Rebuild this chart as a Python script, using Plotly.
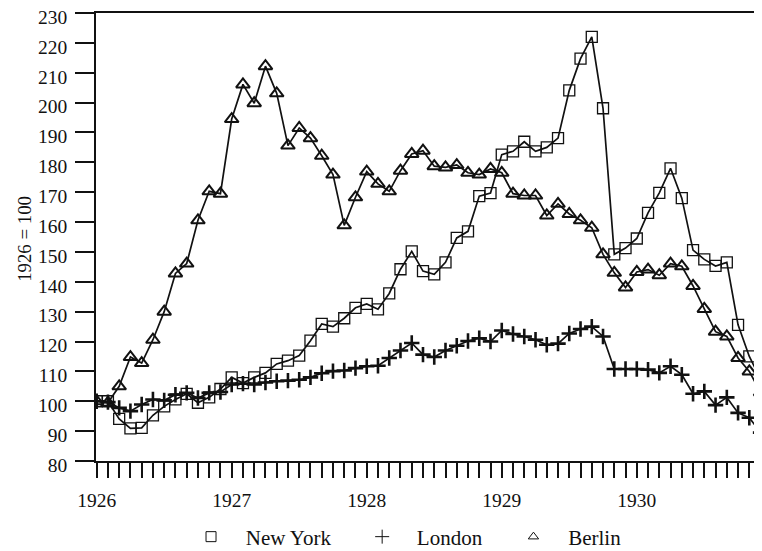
import plotly.graph_objects as go

months = list(range(60))
year_labels = {0: "1926", 12: "1927", 24: "1928", 36: "1929", 48: "1930"}

new_york = [100, 100, 94.1, 90.9, 91.1, 95.3, 98.3, 100.6, 102.5, 99.5,
            101.3, 104.1, 108, 106.1, 108, 109.5, 112.5, 113.6, 115.3, 120.3,
            125.9, 125, 127.8, 131.3, 132.6, 130.8, 136.1, 144.2, 150.2, 143.6,
            142.5, 146.5, 154.7, 156.9, 168.7, 169.7, 182.6, 183.7, 186.9, 183.7,
            185, 188.1, 204.1, 214.7, 222, 198.1, 149.2, 151.3, 154.5, 163.1,
            169.8, 178, 168, 150.6, 147.5, 145.3, 146.5, 125.6, 115, 107.5]

london = [100, 99.7, 97.8, 96.7, 98.9, 100.6, 100.3, 102.2, 102.8, 101.1,
          102.8, 103.1, 105.6, 105.9, 105.6, 106.3, 106.7, 106.9, 107.2, 108,
          109.4, 110.1, 110.3, 111.1, 111.7, 111.9, 114.5, 117, 119.5, 115.6,
          114.8, 117, 118.6, 120.2, 121.1, 120, 123.7, 122.5, 121.7, 120.6,
          118.9, 119.3, 122.7, 124.2, 125, 121.7, 110.8, 110.8, 110.8, 110.6,
          109.5, 111.7, 108.9, 102.5, 103.3, 98.7, 101.3, 96.1, 94.5, 89.5]

berlin = [100, 99.5, 105, 114.8, 112.8, 120.6, 130, 142.8, 146.1, 160.6,
          170.3, 169.5, 194.5, 206.1, 199.8, 212.2, 203.1, 185.6, 191.5, 188.1,
          182.2, 175.9, 158.9, 168.3, 176.9, 172.8, 170.3, 177.2, 182.8, 183.9,
          178.7, 178.3, 179.1, 176.5, 175.9, 177.8, 176.5, 169.5, 168.9, 168.9,
          162.2, 166.1, 162.7, 160.6, 158.1, 149.2, 143, 138.1, 143.3, 144.1,
          142.2, 146.1, 145.2, 138.6, 130.9, 123.3, 121.7, 114.5, 110, 103]

y_ticks = list(range(80, 231, 10))

FONT = "Liberation Serif"
INK = "#111111"
NB = "\u00a0"
LEAD = NB * 2 + "\u2009"
TRAIL = NB * 5

fig = go.Figure()

series = [
    ("New York", new_york, "square-open", 11, 1.3),
    ("London", london, "cross-thin-open", 11, 2.6),
    ("Berlin", berlin, "triangle-up-open", 12, 2.0),
]

for name, vals, sym, size, lw in series:
    fig.add_trace(go.Scatter(
        x=months, y=vals, mode="lines+markers", name=name, showlegend=False,
        line=dict(color=INK, width=1.7),
        marker=dict(symbol=sym, size=size, color=INK, line=dict(color=INK, width=lw)),
    ))

legend_syms = [(LEAD + "New York" + TRAIL, "square-open", 10, 1.0),
               (LEAD + "London" + TRAIL, "cross-thin-open", 10, 1.0),
               (LEAD + "Berlin", "triangle-up-open", 9, 1.0)]
for name, sym, size, lw in legend_syms:
    fig.add_trace(go.Scatter(
        x=[None], y=[None], mode="markers", name=name, showlegend=True,
        marker=dict(symbol=sym, size=size, color=INK, line=dict(color=INK, width=lw)),
    ))

# the page body adds an 8px offset; the figure is sized to fill the rest
fig.update_layout(
    width=754, height=543,
    margin=dict(l=88, r=2, t=5, b=89.5, autoexpand=False),
    paper_bgcolor="white", plot_bgcolor="white",
    font=dict(family=FONT, size=19.5, color=INK),
    showlegend=True,
    legend=dict(orientation="h", x=0.1431, xanchor="left", xref="paper",
                y=0.0258, yanchor="middle", yref="container",
                font=dict(family=FONT, size=21, color=INK), itemsizing="trace",
                bgcolor="rgba(0,0,0,0)"),
    xaxis=dict(
        range=[-0.06, 58.95], tickmode="array", tickvals=months,
        ticktext=[year_labels.get(m, "") for m in months],
        ticks="outside", ticklen=15, tickwidth=1.5, tickcolor=INK,
        showline=True, linecolor=INK, linewidth=1.5, mirror=True,
        showgrid=False, zeroline=False, ticklabelstandoff=6, automargin=False,
        tickfont=dict(family=FONT, size=19.5, color=INK),
    ),
    yaxis=dict(
        range=[80, 230], tickmode="array", tickvals=y_ticks,
        ticks="outside", ticklen=19, tickwidth=1.5, tickcolor=INK,
        showline=True, linecolor=INK, linewidth=1.5, mirror=True,
        showgrid=False, zeroline=False, ticklabeloverflow="allow",
        ticklabelstandoff=4, ticklabelshift=4, automargin=False,
        tickfont=dict(family=FONT, size=19.5, color=INK),
    ),
    annotations=[dict(
        text="1926 = 100", textangle=-90, x=-0.1069, y=0.496, xref="paper", yref="paper",
        xanchor="center", yanchor="middle", showarrow=False,
        font=dict(family=FONT, size=18.8, color=INK),
    )],
)

fig.write_html("out.html")
